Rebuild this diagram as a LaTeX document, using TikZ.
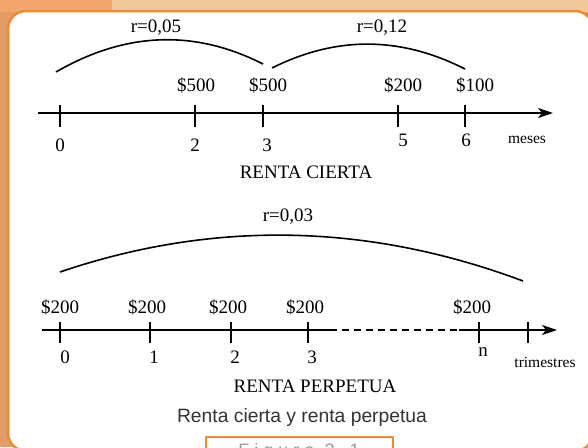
\documentclass[tikz,border=0pt]{standalone}
\usepackage{fontspec}
\setmainfont{Liberation Serif}
\newfontfamily\capfont{Liberation Sans}
\newfontfamily\figfont[LetterSpace=28]{Liberation Sans}
\usetikzlibrary{arrows.meta}
\definecolor{naranja}{HTML}{F08A30}
\definecolor{durazno}{HTML}{EFC99A}
\definecolor{esquina}{HTML}{F4A66C}
\definecolor{borde}{HTML}{E29C66}
\tikzset{
  eje/.style={line width=1.8pt},
  marca/.style={line width=2.2pt},
  arco/.style={line width=1.6pt},
  chico/.style={font=\fontsize{15.5}{17}\selectfont}
}
\begin{document}
\begin{tikzpicture}[x=1pt, y=-1pt, line join=round, >={Stealth[length=15pt,width=10pt,inset=4pt]}, font=\fontsize{19}{21}\selectfont]
	\useasboundingbox (0,0) rectangle (588,447);
	\clip (0,0) rectangle (588,447);
	% fondo y marco
	\fill[borde] (0,0) rectangle (588,447);
	\fill[esquina] (0,0) rectangle (112,12);
	\fill[durazno] (112,0) rectangle (588,12);
	\draw[naranja, line width=2.5pt, fill=white, rounded corners=18pt] (8,11) rectangle (593,451);
	% renta cierta
	\coordinate (c0) at (38,113); \coordinate (c1) at (553,113);
	\draw[eje,->] (c0) -- (c1);
	\foreach \x in {60,195,263,398,465} \draw[marca] (\x,105) -- (\x,127);
	\node (m0) at (60,145) {0};
	\node (m2) at (195,145) {2};
	\node (m3) at (267,145) {3};
	\node (m5) at (403,140) {5};
	\node (m6) at (466,140) {6};
	\node[chico] (meses) at (527,140) {meses};
	\node (q2) at (196,85) {\$500};
	\node (q3) at (268,85) {\$500};
	\node (q5) at (403,85) {\$200};
	\node (q6) at (475,85) {\$100};
	\coordinate (a0) at (56,72); \coordinate (a1) at (263,64);
	\coordinate (b0) at (272,68); \coordinate (b1) at (465,69);
	\draw[arco] (a0) .. controls (125,32) and (194,29) .. (a1);
	\draw[arco] (b0) .. controls (336,36) and (400,36) .. (b1);
	\node (r1) at (156,28) {r=0,05};
	\node (r2) at (382,28) {r=0,12};
	\node (cierta) at (306,172) {RENTA CIERTA};
	% renta perpetua
	\coordinate (p0) at (42,330); \coordinate (p1) at (330,330);
	\coordinate (p2) at (459,330); \coordinate (p3) at (557,330);
	\draw[eje] (p0) -- (p1);
	\draw[eje,dashed,dash pattern=on 7pt off 5pt] (p1) -- (p2);
	\draw[eje,->] (p2) -- (p3);
	\foreach \x in {60,150,231,308,479,528} \draw[marca] (\x,322) -- (\x,343);
	\node (t0) at (65,357) {0};
	\node (t1) at (154,357) {1};
	\node (t2) at (235,357) {2};
	\node (t3) at (312,357) {3};
	\node (tn) at (483,352) {n};
	\node[chico] (trim) at (545,362) {trimestres};
	\foreach \x/\n in {60/0,147/1,228/2,305/3,472/n} \node (d\n) at (\x,307) {\$200};
	\coordinate (e0) at (60,272); \coordinate (e1) at (523,281);
	\draw[arco] (e0) .. controls (213,220) and (368,223) .. (e1);
	\node (r3) at (288,217) {r=0,03};
	\node (perpetua) at (315,386) {RENTA PERPETUA};
	% pie
	\node[font=\capfont\fontsize{19.3}{21}\selectfont, text=black!80] (titulo) at (302,418) {Renta cierta y renta perpetua};
	\draw[naranja, line width=1.5pt] (206,437) rectangle (393,480);
	\node[font=\figfont\fontsize{18}{20}\selectfont, text=black!40, anchor=base] (fig) at (299,456) {Figura 3.1};
\end{tikzpicture}
\end{document}
